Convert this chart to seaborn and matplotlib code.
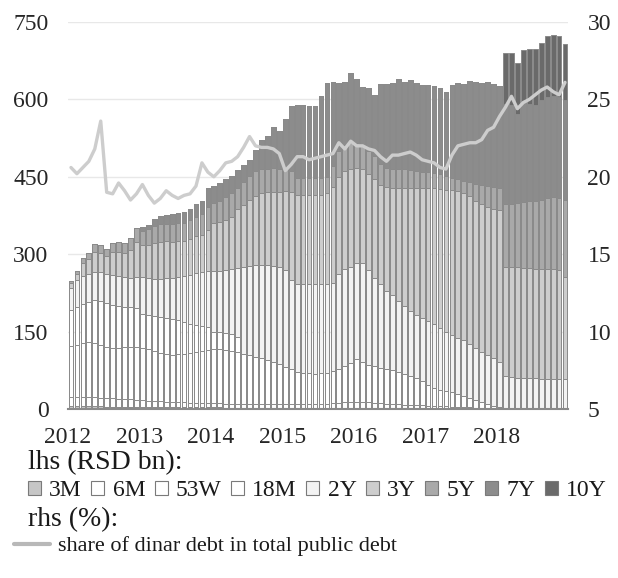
import numpy as np
import pandas as pd
import matplotlib
matplotlib.use("Agg")
import matplotlib.pyplot as plt
import seaborn as sns
from matplotlib.patches import Patch
from matplotlib.lines import Line2D

# --- data: dinar government securities by tenor, RSD bn, monthly Jan 2012 - Dec 2018 ---
months = np.arange(84)
years = ['2012', '2013', '2014', '2015', '2016', '2017', '2018']

m3 = [5, 5, 5, 6, 5, 5, 4, 4, 4, 4, 4, 4,
      4, 3, 3, 3, 3, 3, 3, 3, 3, 3, 3, 3,
      3, 3, 2, 2, 2, 2, 2, 2, 2, 2, 2, 2,
      2, 2, 2, 2, 2, 2, 2, 2, 2, 2, 2, 2,
      2, 2, 2, 2, 2, 2, 2, 1, 1, 1, 1, 1,
      1, 1, 1, 1, 1, 1, 1, 1, 0, 0, 0, 0,
      0, 0, 0, 0, 0, 0, 0, 0, 0, 0, 0, 0]
m6 = [18, 18, 19, 18, 18, 17, 18, 17, 16, 16, 15, 14,
      13, 13, 13, 12, 11, 11, 10, 10, 9, 9, 9, 8,
      8, 8, 8, 8, 8, 8, 8, 7, 7, 7, 7, 7,
      7, 7, 7, 7, 7, 7, 7, 8, 9, 10, 11, 12,
      12, 12, 11, 10, 9, 8, 7, 8, 7, 7, 6, 6,
      5, 5, 4, 4, 3, 3, 2, 2, 2, 2, 1, 1,
      1, 0, 0, 0, 0, 0, 0, 0, 0, 0, 0, 0]
w53 = [100, 102, 104, 105, 104, 102, 99, 98, 98, 100, 102, 102,
       101, 100, 96, 93, 92, 91, 93, 94, 97, 99, 101, 104,
       105, 105, 105, 103, 100, 97, 94, 92, 89, 86, 82, 78,
       73, 68, 63, 61, 60, 59, 60, 60, 62, 66, 71, 76,
       83, 78, 73, 71, 69, 67, 66, 63, 60, 56, 53, 47,
       41, 34, 32, 30, 29, 26, 23, 19, 16, 12, 8, 4,
       2, 2, 2, 2, 2, 2, 2, 2, 2, 2, 2, 2]
m18 = [69, 73, 76, 79, 85, 86, 84, 83, 82, 78, 77, 76,
       66, 66, 68, 70, 70, 70, 66, 61, 56, 51, 47, 43,
       34, 33, 32, 33, 30, 0, 0, 0, 0, 0, 0, 0] + [0] * 48
y2 = [43, 52, 54, 54, 54, 55, 57, 58, 58, 58, 56, 59,
      71, 72, 72, 74, 77, 79, 83, 90, 95, 101, 105, 109,
      117, 119, 123, 126, 134, 169, 174, 178, 182, 185, 187, 188,
      188, 173, 170, 172, 173, 174, 174, 173, 172, 184, 188, 186,
      185, 191, 184, 171, 162, 152, 145, 138, 132, 126, 122, 122,
      124, 125, 120, 114, 110, 108, 107, 104, 100, 96, 95, 93,
      88, 61, 60, 59, 58, 58, 58, 57, 57, 56, 56, 56]
y3 = [9, 12, 25, 28, 38, 37, 34, 44, 46, 46, 54, 68,
      62, 64, 70, 72, 72, 70, 70, 68, 70, 72, 72, 80,
      93, 94, 96, 100, 114, 120, 127, 133, 138, 140, 142, 145,
      152, 170, 173, 172, 172, 172, 172, 175, 185, 188, 190, 190,
      186, 183, 185, 191, 193, 201, 208, 218, 228, 238, 246, 252,
      257, 263, 270, 276, 281, 284, 285, 286, 286, 288, 288, 290,
      294, 213, 213, 214, 214, 214, 212, 213, 213, 214, 212, 197]
y5 = [4, 5, 10, 12, 15, 15, 14, 18, 20, 20, 23, 28,
      28, 30, 32, 34, 34, 35, 35, 35, 36, 38, 40, 44,
      40, 42, 44, 46, 40, 44, 47, 50, 48, 46, 47, 46,
      44, 42, 33, 33, 33, 33, 33, 32, 40, 50, 50, 49,
      48, 46, 45, 45, 39, 38, 38, 38, 37, 36, 34, 32,
      32, 30, 29, 27, 24, 23, 24, 28, 32, 36, 40, 42,
      43, 122, 123, 125, 128, 130, 132, 134, 136, 138, 138, 150]
y7 = [0] * 12 + [
      7, 8, 14, 16, 17, 18, 19, 21, 22, 25, 27, 37,
      32, 34, 36, 34, 35, 32, 30, 40, 56, 64, 79, 72,
      96, 126, 142, 142, 141, 140, 158, 182, 164, 131, 121, 137,
      124, 112, 122, 118, 156, 161, 165, 174, 169, 174, 170, 168,
      168, 168, 166, 162, 180, 187, 188, 196, 198, 198, 202, 200,
      198, 194, 192, 172, 192, 188, 186, 192, 196, 196, 196, 193]
y10 = [0] * 73 + [98, 100, 98, 102, 105, 108, 112, 118, 118, 118, 110]

# share of dinar debt in total public debt, %
share = [20.6, 20.2, 20.6, 21.0, 21.8, 23.6, 19.0, 18.9, 19.6, 19.1, 18.5, 18.9,
         19.5, 18.8, 18.3, 18.6, 19.1, 18.8, 18.6, 18.8, 18.9, 19.4, 20.9, 20.3,
         20.0, 20.4, 20.9, 21.0, 21.3, 21.9, 22.6, 22.0, 21.9, 21.9, 21.8, 21.5,
         20.4, 20.8, 21.3, 21.3, 21.1, 21.2, 21.3, 21.4, 21.5, 22.2, 21.8, 22.3,
         22.0, 22.0, 21.8, 21.7, 21.3, 21.0, 21.4, 21.4, 21.5, 21.6, 21.4, 21.1,
         21.0, 20.9, 20.6, 20.5, 21.4, 22.0, 22.1, 22.2, 22.2, 22.4, 23.0, 23.2,
         23.9, 24.5, 25.2, 24.4, 24.8, 25.0, 25.3, 25.6, 25.8, 25.5, 25.3, 26.1]

tenors = ['3M', '6M', '53W', '18M', '2Y', '3Y', '5Y', '7Y', '10Y']
series = [m3, m6, w53, m18, y2, y3, y5, y7, y10]
colors = ['#c6c6c6', '#ffffff', '#ffffff', '#ffffff', '#f3f3f3',
          '#cdcdcd', '#a9a9a9', '#8c8c8c', '#6a6a6a']
EDGE = '#8a8a8a'

stack = pd.DataFrame(dict(zip(tenors, series)), index=months)
cum = stack.cumsum(axis=1)

# --- style ---
sns.set_style('white')
plt.rcParams['font.family'] = ['Liberation Serif', 'DejaVu Serif']
plt.rcParams['text.color'] = '#1a1a1a'

fig = plt.figure(figsize=(6.18, 5.78), dpi=100)
ax = fig.add_axes([68 / 618, 1 - 409 / 578, 500 / 618, 387 / 578])

# stacked bars: draw cumulative totals from the top layer down
for name, col in reversed(list(zip(tenors, colors))):
    sns.barplot(x=months, y=cum[name].values, color=col, saturation=1,
                width=0.8, edgecolor=EDGE, linewidth=0.7, errorbar=None, ax=ax)

ax.set_ylim(0, 750)
ax.set_yticks(np.arange(0, 751, 150))
ax.set_xlim(-0.5, 83.5)
ax.set_xticks(np.arange(0, 85, 12) - 0.5)
ax.set_xticklabels(years + [''])
ax.set_xlabel('')
ax.set_ylabel('')
ax.yaxis.grid(True, color='#e8e8e8', linewidth=1)
ax.set_axisbelow(True)
for s in ['top', 'left', 'right']:
    ax.spines[s].set_visible(False)
ax.spines['bottom'].set_color('#8a8a8a')
ax.spines['bottom'].set_linewidth(1.5)
ax.tick_params(axis='x', direction='out', length=6, width=1.2, color='#8a8a8a',
               labelsize=17, pad=7)
ax.tick_params(axis='y', length=0, labelsize=17, pad=14)

# share line on right axis
ax2 = ax.twinx()
sns.lineplot(x=months, y=share, color='#cdcdcd', linewidth=2.4, ax=ax2)
ax2.set_ylim(5, 30)
ax2.set_yticks(np.arange(5, 31, 5))
ax2.set_ylabel('')
for s in ax2.spines.values():
    s.set_visible(False)
ax2.tick_params(axis='y', length=0, labelsize=17, pad=14)
ax2.set_xlim(-0.5, 83.5)

# --- legend block below the chart ---
fig.text(28 / 618, 1 - 463 / 578, 'lhs (RSD bn):', fontsize=20, va='center')
handles = [Patch(facecolor=c, edgecolor='#7a7a7a', linewidth=0.8) for c in colors]
fig.legend(handles, tenors, ncol=9, loc='center left',
           bbox_to_anchor=(28 / 618, 1 - 491 / 578), frameon=False,
           fontsize=17, handlelength=0.55, handleheight=0.55,
           handletextpad=0.35, columnspacing=0.4, borderaxespad=0, borderpad=0)
fig.text(28 / 618, 1 - 520 / 578, 'rhs (%):', fontsize=20, va='center')
fig.legend([Line2D([0], [0], color='#b8b8b8', linewidth=3)],
           ['share of dinar debt in total public debt'], loc='center left',
           bbox_to_anchor=(14 / 618, 1 - 546 / 578), frameon=False, fontsize=16,
           handlelength=1.6, handletextpad=0.4, borderaxespad=0, borderpad=0)

fig.savefig('out.png', dpi=100)
